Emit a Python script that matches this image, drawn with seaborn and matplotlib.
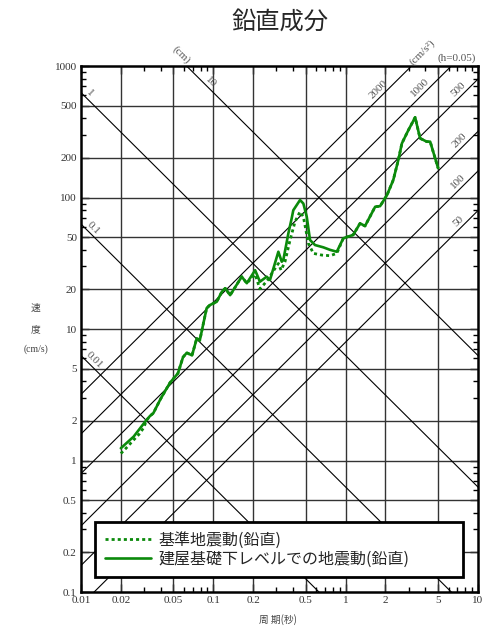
import numpy as np
import pandas as pd
import seaborn as sns
import matplotlib.pyplot as plt
from matplotlib.ticker import FixedLocator, NullFormatter

# ---------------------------------------------------------------- data
# period (s) / pseudo velocity (cm/s)
period_base = [0.02, 0.0224, 0.0246, 0.0274, 0.0296, 0.0314, 0.0332, 0.0352, 0.04, 0.047,
               0.054, 0.059, 0.063, 0.069, 0.075, 0.079, 0.089, 0.094, 0.106, 0.116,
               0.123, 0.134, 0.164, 0.179, 0.207, 0.225, 0.239, 0.26, 0.28, 0.31,
               0.325, 0.348, 0.38, 0.4145, 0.452, 0.479, 0.523, 0.57, 0.66, 0.762,
               0.857, 0.96, 1.14, 1.285, 1.40, 1.67, 1.82, 2.05, 2.29, 2.5,
               2.66, 2.98, 3.35, 3.65, 4.1, 4.35, 5.0]
vel_base = [1.13, 1.27, 1.41, 1.58, 1.76, 2.03, 2.18, 2.29, 2.95, 3.9,
            4.6, 6.1, 6.6, 6.3, 8.5, 8.2, 14.4, 15.2, 16.1, 19.2,
            20.4, 18.1, 25, 22.3, 26, 20.2, 21.6, 23.9, 27, 31.5,
            28, 32.5, 47.5, 65.5, 78, 71.5, 44.8, 37.6, 36.5, 36.1,
            37.6, 49, 52, 63.6, 60.7, 85, 86, 104, 136, 193,
            258, 326, 407, 282, 266, 266, 167]

period_bldg = [0.02, 0.025, 0.0305, 0.0332, 0.0352, 0.04, 0.047, 0.054, 0.059, 0.063,
               0.069, 0.075, 0.079, 0.089, 0.094, 0.106, 0.116, 0.123, 0.134, 0.164,
               0.179, 0.207, 0.225, 0.253, 0.268, 0.31, 0.329, 0.338, 0.369, 0.391,
               0.402, 0.452, 0.479, 0.508, 0.538, 0.587, 0.678, 0.762, 0.857, 0.96,
               1.14, 1.285, 1.40, 1.67, 1.82, 2.05, 2.29, 2.5, 2.66, 2.98,
               3.35, 3.65, 4.1, 4.35, 5.0]
vel_bldg = [1.24, 1.52, 1.97, 2.18, 2.29, 2.95, 3.9, 4.6, 6.1, 6.6,
            6.3, 8.5, 8.2, 14.4, 15.2, 16.1, 19.2, 20.4, 18.1, 25,
            22.3, 28, 22.9, 25, 23.6, 38.7, 32.5, 33.5, 53.4, 69.5,
            80, 95.7, 90, 71.5, 47.5, 43.5, 41.8, 40, 38.7, 49,
            52, 63.6, 60.7, 85, 86, 104, 136, 193, 258, 326,
            407, 282, 266, 266, 167]

x_ticks = [0.01, 0.02, 0.05, 0.1, 0.2, 0.5, 1, 2, 5, 10]
x_tick_labels = ['0.01', '0.02', '0.05', '0.1', '0.2', '0.5', '1', '2', '5', '10']
y_ticks = [0.1, 0.2, 0.5, 1, 2, 5, 10, 20, 50, 100, 200, 500, 1000]
y_tick_labels = ['0.1', '0.2', '0.5', '1', '2', '5', '10', '20', '50', '100', '200', '500', '1000']

disp_lines = [0.01, 0.1, 1, 10]            # cm
disp_labels = ['0.01', '0.1', '1', '10']
acc_lines = [50, 100, 200, 500, 1000, 2000]  # cm/s2
acc_labels = ['50', '100', '200', '500', '1000', '2000']

name_base = '基準地震動(鉛直)'
name_bldg = '建屋基礎下レベルでの地震動(鉛直)'

# ---------------------------------------------------------------- plot
sns.set_style('ticks')
plt.rcParams['font.family'] = ['Noto Sans CJK JP', 'DejaVu Sans']

green = '#0b8a0b'
serif = 'Liberation Serif'

fig = plt.figure(figsize=(4.9, 6.3), dpi=100)
ax = fig.add_axes([0.1653, 0.0603, 0.8102, 0.8349])
ax.set_xscale('log')
ax.set_yscale('log')
ax.set_xlim(0.01, 10)
ax.set_ylim(0.1, 1000)

# grid
for x in x_ticks[1:-1]:
    ax.axvline(x, color='#333333', lw=1.0, zorder=1)
for y in y_ticks[1:-1]:
    ax.axhline(y, color='#333333', lw=1.0, zorder=1)

# tripartite lines
T = np.array([0.005, 20.0])
for d in disp_lines:
    ax.plot(T, 2 * np.pi * d / T, color='black', lw=0.8, zorder=1)
for a in acc_lines:
    ax.plot(T, a * T / (2 * np.pi), color='black', lw=0.8, zorder=1)

lab_kw = dict(fontsize=8, color='#555555', family=serif, ha='center', va='center')
disp_lab_T = [0.0125, 0.0123, 0.0117, 0.096]
for d, lab, t in zip(disp_lines, disp_labels, disp_lab_T):
    ax.text(t, 2 * np.pi * d / t * 1.15, lab, rotation=-45, **lab_kw)
acc_lab_T = [7.07, 7.07, 7.3, 7.07, 3.65, 1.76]
for a, lab, t in zip(acc_lines, acc_labels, acc_lab_T):
    ax.text(t, a * t / (2 * np.pi) * 1.18, lab, rotation=45, **lab_kw)
ax.text(0.0568, 1212, '(cm)', rotation=-45, clip_on=False, **lab_kw)
ax.text(3.78, 1278, '(cm/s²)', rotation=45, clip_on=False, **lab_kw)
ax.text(6.95, 1150, '(h=0.05)', clip_on=False, **lab_kw)

# spectra
df_base = pd.DataFrame({'T': period_base, 'V': vel_base})
df_bldg = pd.DataFrame({'T': period_bldg, 'V': vel_bldg})
sns.lineplot(data=df_base, x='T', y='V', ax=ax, color=green, lw=2.0,
             linestyle=(0, (1.1, 1.1)), label=name_base, estimator=None, sort=False, zorder=3)
sns.lineplot(data=df_bldg, x='T', y='V', ax=ax, color=green, lw=1.9,
             label=name_bldg, estimator=None, sort=False, zorder=4)

# axes cosmetics
ax.xaxis.set_major_locator(FixedLocator(x_ticks))
ax.yaxis.set_major_locator(FixedLocator(y_ticks))
minor_x = [m * 10.0 ** e for e in range(-2, 1) for m in (3, 4, 6, 7, 8, 9)]
minor_y = [m * 10.0 ** e for e in range(-1, 3) for m in (3, 4, 6, 7, 8, 9)]
ax.xaxis.set_minor_locator(FixedLocator(minor_x))
ax.yaxis.set_minor_locator(FixedLocator(minor_y))
ax.xaxis.set_minor_formatter(NullFormatter())
ax.yaxis.set_minor_formatter(NullFormatter())
ax.set_xticklabels(x_tick_labels, family=serif, fontsize=8, color='#333333')
ax.set_yticklabels(y_tick_labels, family=serif, fontsize=8, color='#333333')
ax.tick_params(which='both', direction='in', top=True, right=True, width=1, color='black')
ax.tick_params(which='major', length=6, pad=3)
ax.tick_params(which='minor', length=3.5)
for s in ax.spines.values():
    s.set_linewidth(1.8)
    s.set_color('black')

ax.set_xlabel('')
ax.set_ylabel('')
fig.text(0.5676, 0.016, '周 期(秒)', ha='center', va='center', fontsize=7, color='#444444')
fig.text(0.073, 0.511, '速', ha='center', va='center', fontsize=7, color='#444444')
fig.text(0.073, 0.478, '度', ha='center', va='center', fontsize=7, color='#444444')
fig.text(0.073, 0.446, '(cm/s)', ha='center', va='center', fontsize=7, color='#444444',
         family=serif)

fig.text(0.5704, 0.965, '鉛直成分', ha='center', va='center', fontsize=17.5)

leg = ax.legend(loc='lower left', bbox_to_anchor=(0.0353, 0.0285, 0.927, 0.1046),
                mode='expand', fontsize=11.5, frameon=True, fancybox=False,
                framealpha=1, edgecolor='black', handlelength=2.9, handletextpad=0.45,
                borderpad=0.6, labelspacing=0.1, borderaxespad=0)
leg.get_frame().set_linewidth(2)
leg.set_zorder(5)

fig.savefig('out.png', dpi=100)
